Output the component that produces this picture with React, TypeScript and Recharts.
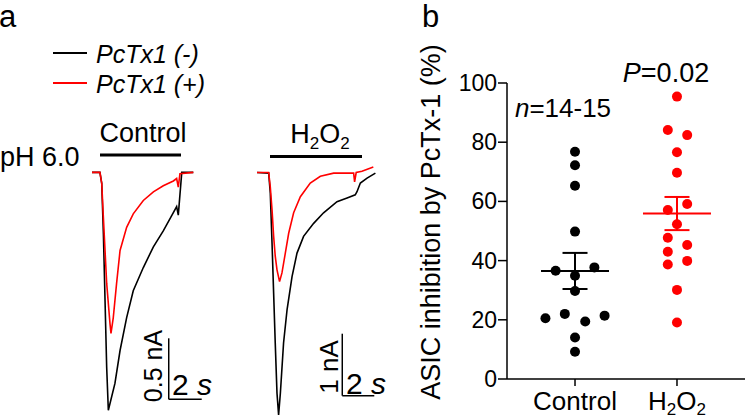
import React from "react";
import {
  LineChart,
  Line,
  XAxis,
  YAxis,
  ReferenceLine,
  ScatterChart,
  Scatter,
  ErrorBar,
} from "recharts";

const FONT = '"Liberation Sans", Arial, Helvetica, sans-serif';
const RED = "#ff0000";

// panel a: whole-cell currents, [time (s), current (nA)]
const controlNoTx: [number, number][] = [
  [0, 0], [0.48, 0], [0.59, -0.09], [0.69, -0.5], [0.79, -1.05], [0.89, -1.6],
  [0.99, -1.95], [1.39, -1.73], [1.7, -1.46], [2.1, -1.19], [2.5, -0.97],
  [3.11, -0.78], [3.72, -0.61], [4.32, -0.48], [4.93, -0.33], [5.13, -0.28],
  [5.23, -0.35], [5.44, 0], [6.14, 0],
];
const controlTx: [number, number][] = [
  [0, 0], [0.48, 0], [0.59, -0.09], [0.69, -0.37], [0.89, -0.91], [1.09, -1.24],
  [1.15, -1.32], [1.29, -1.19], [1.49, -0.91], [1.7, -0.64], [2.1, -0.45],
  [2.5, -0.34], [3.11, -0.23], [3.72, -0.16], [4.32, -0.11], [4.93, -0.07],
  [5.13, -0.05], [5.23, -0.12], [5.33, -0.01], [6.14, 0],
];
const h2o2NoTx: [number, number][] = [
  [0, 0], [0.73, -0.01], [0.83, -0.33], [0.94, -1.14], [1.04, -1.95], [1.14, -2.75],
  [1.25, -3.56], [1.35, -3.91], [1.46, -3.56], [1.66, -2.75], [1.88, -2.21],
  [2.19, -1.68], [2.5, -1.3], [2.91, -1.03], [3.54, -0.82], [4.16, -0.65],
  [5.0, -0.47], [5.63, -0.41], [6.14, -0.36], [6.25, -0.31], [6.46, -0.17],
  [6.88, -0.09], [7.4, -0.01],
];
const h2o2Tx: [number, number][] = [
  [0, 0], [0.73, 0], [0.83, -0.23], [0.94, -0.6], [1.04, -1.03], [1.14, -1.35],
  [1.25, -1.57], [1.41, -1.76], [1.56, -1.62], [1.77, -1.3], [1.98, -0.98],
  [2.29, -0.65], [2.71, -0.39], [3.33, -0.17], [3.96, -0.06], [4.79, -0.01],
  [5.63, -0.01], [6.04, -0.01], [6.1, -0.15], [6.2, 0], [6.56, 0.02], [7.27, 0.09],
];

// scale bars: [start time, baseline current, seconds, nA]
const controlScale = [4.65, -1.86, 2, 0.5];
const h2o2Scale = [5.33, -3.6, 2, 1];

// panel b: % inhibition by PcTx-1
const groups = ["Control", "H2O2"];
const controlInhibition = [76.8, 72.2, 65.3, 49.8, 36.6, 37.7, 34.9, 29.7, 20.5, 22.0, 21.4, 19.4, 14.0, 9.2];
const controlJitter = [0, 0, 0, 0, -0.19, 0.19, 0, 0, -0.29, -0.1, 0.29, 0.1, 0, 0];
const h2o2Inhibition = [95.4, 84.1, 82.4, 76.6, 69.7, 59.1, 57.1, 52.3, 47.7, 45.3, 43.0, 39.9, 38.7, 30.1, 19.1];
const h2o2Jitter = [0, -0.09, 0.1, 0, 0, 0.1, -0.09, 0, -0.09, 0.1, -0.09, 0.1, -0.09, 0, 0];
const groupMean = [36.5, 55.9];
const groupSem = [6.1, 5.6];
const yTicks = [0, 20, 40, 60, 80, 100];

const toPts = (arr: [number, number][]) => arr.map(([t, i]) => ({ t, i }));

const scaleSegments = (s: number[]) => [
  [{ x: s[0], y: s[1] + s[3] }, { x: s[0], y: s[1] }],
  [{ x: s[0], y: s[1] }, { x: s[0] + s[2], y: s[1] }],
];

function Traces({ noTx, tx, scale, tMax, iDomain }: any) {
  return (
    <>
      <XAxis type="number" dataKey="t" domain={[0, tMax]} hide allowDataOverflow />
      <YAxis type="number" dataKey="i" domain={iDomain} hide allowDataOverflow />
      <Line data={toPts(noTx)} dataKey="i" type="linear" stroke="#000" strokeWidth={1.6} dot={false} isAnimationActive={false} />
      <Line data={toPts(tx)} dataKey="i" type="linear" stroke={RED} strokeWidth={1.6} dot={false} isAnimationActive={false} />
      {scaleSegments(scale).map((seg, k) => (
        <ReferenceLine key={k} segment={seg} stroke="#000" strokeWidth={1.5} ifOverflow="visible" />
      ))}
    </>
  );
}

const dotShape = (color: string) => (p: any) => <circle cx={p.cx} cy={p.cy} r={5} fill={color} />;
const meanShape = (color: string) => (p: any) => (
  <line x1={p.cx - 34} x2={p.cx + 34} y1={p.cy} y2={p.cy} stroke={color} strokeWidth={2} />
);

function CatTick({ x, y, payload }: any) {
  const name = groups[payload.value];
  if (name === "H2O2") {
    return (
      <text x={x} y={y + 22} textAnchor="middle" fontSize={26} fontFamily={FONT} fill="#000">
        H<tspan fontSize={17} dy={5}>2</tspan>
        <tspan dy={-5}>O</tspan>
        <tspan fontSize={17} dy={5}>2</tspan>
      </text>
    );
  }
  return (
    <text x={x} y={y + 22} textAnchor="middle" fontSize={26} fontFamily={FONT} fill="#000">
      {name}
    </text>
  );
}

function ValueTick({ x, y, payload }: any) {
  return (
    <text x={x} y={y} dy={8} textAnchor="end" fontSize={23} fontFamily={FONT} fill="#000">
      {payload.value}
    </text>
  );
}

export default function App() {
  const controlPts = controlInhibition.map((v, k) => ({ x: 0 + controlJitter[k], y: v }));
  const h2o2Pts = h2o2Inhibition.map((v, k) => ({ x: 1 + h2o2Jitter[k], y: v }));
  const axisStyle = { stroke: "#000", strokeWidth: 1.5 };

  return (
    <div style={{ position: "absolute", left: 0, top: 0, width: 746, height: 419, background: "#fff", fontFamily: FONT, overflow: "hidden" }}>
      <div style={{ position: "absolute", left: 92, top: 147.6 }}>
        <LineChart width={115.5} height={268.4} margin={{ top: 0, right: 0, bottom: 0, left: 0 }}>
          {Traces({ noTx: controlNoTx, tx: controlTx, scale: controlScale, tMax: 7, iDomain: [-2, 0.2] })}
        </LineChart>
      </div>
      <div style={{ position: "absolute", left: 256.7, top: 157.2 }}>
        <LineChart width={120} height={263.5} margin={{ top: 0, right: 0, bottom: 0, left: 0 }}>
          {Traces({ noTx: h2o2NoTx, tx: h2o2Tx, scale: h2o2Scale, tMax: 7.5, iDomain: [-4, 0.25] })}
        </LineChart>
      </div>

      <div style={{ position: "absolute", left: 420, top: 0 }}>
        <ScatterChart width={326} height={419} margin={{ top: 83, right: 1, bottom: 0, left: 0 }}>
          <XAxis
            type="number"
            dataKey="x"
            domain={[-0.667, 1.667]}
            ticks={[0, 1]}
            interval={0}
            allowDataOverflow
            height={40}
            tickSize={7}
            axisLine={axisStyle}
            tickLine={axisStyle}
            tick={<CatTick />}
          />
          <YAxis
            type="number"
            dataKey="y"
            domain={[0, 100]}
            ticks={yTicks}
            interval={0}
            width={87}
            tickSize={9}
            tickMargin={1}
            axisLine={axisStyle}
            tickLine={axisStyle}
            tick={<ValueTick />}
          />
          <Scatter data={controlPts} fill="#000" shape={dotShape("#000")} isAnimationActive={false} />
          <Scatter data={h2o2Pts} fill={RED} shape={dotShape(RED)} isAnimationActive={false} />
          <Scatter data={[{ x: 0, y: groupMean[0], sem: groupSem[0] }]} shape={meanShape("#000")} isAnimationActive={false}>
            <ErrorBar dataKey="sem" direction="y" width={12.5} stroke="#000" strokeWidth={2} isAnimationActive={false} />
          </Scatter>
          <Scatter data={[{ x: 1, y: groupMean[1], sem: groupSem[1] }]} shape={meanShape(RED)} isAnimationActive={false}>
            <ErrorBar dataKey="sem" direction="y" width={12.5} stroke={RED} strokeWidth={2} isAnimationActive={false} />
          </Scatter>
        </ScatterChart>
      </div>

      <svg width={746} height={419} style={{ position: "absolute", left: 0, top: 0, pointerEvents: "none" }} fontFamily={FONT} fill="#000">
        <text x={-1} y={27} fontSize={31}>a</text>
        <text x={422} y={27} fontSize={31}>b</text>

        <line x1={53} x2={87} y1={53} y2={53} stroke="#000" strokeWidth={2} />
        <text x={96} y={63} fontSize={25} fontStyle="italic">PcTx1 (-)</text>
        <line x1={53} x2={87} y1={83} y2={83} stroke={RED} strokeWidth={2} />
        <text x={96} y={93} fontSize={25} fontStyle="italic">PcTx1 (+)</text>

        <text x={0} y={166} fontSize={27}>pH 6.0</text>
        <text x={143} y={142} fontSize={27} textAnchor="middle">Control</text>
        <line x1={100} x2={181} y1={155} y2={155} stroke="#000" strokeWidth={3} />
        <text x={320} y={143} fontSize={27} textAnchor="middle">
          H<tspan fontSize={17} dy={6}>2</tspan>
          <tspan dy={-6}>O</tspan>
          <tspan fontSize={17} dy={6}>2</tspan>
        </text>
        <line x1={270} x2={362} y1={156.5} y2={156.5} stroke="#000" strokeWidth={3} />

        <text x={162} y={366} fontSize={25} textAnchor="middle" transform="rotate(-90 162 366)">0.5 nA</text>
        <text x={172} y={395} fontSize={30}>2 <tspan fontStyle="italic">s</tspan></text>
        <text x={338} y={367} fontSize={26} textAnchor="middle" transform="rotate(-90 338 367)">1 nA</text>
        <text x={346} y={394} fontSize={30}>2 <tspan fontStyle="italic">s</tspan></text>

        <text x={440} y={222} fontSize={27} textAnchor="middle" transform="rotate(-90 440 222)">ASIC inhibition by PcTx-1 (%)</text>
        <text x={563} y={117} fontSize={26} textAnchor="middle">
          <tspan fontStyle="italic">n</tspan>=14-15
        </text>
        <text x={666} y={82} fontSize={27} textAnchor="middle">
          <tspan fontStyle="italic">P</tspan>=0.02
        </text>
      </svg>
    </div>
  );
}
